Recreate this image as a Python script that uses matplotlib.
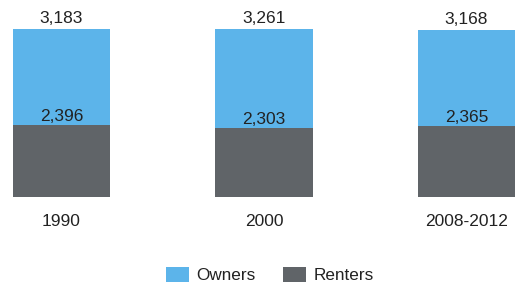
import matplotlib.pyplot as plt
import numpy as np

plt.rcParams['font.family'] = ['Liberation Sans', 'DejaVu Sans']

years = ['1990', '2000', '2008-2012']
renters = [2396, 2303, 2365]
owners = [3183, 3261, 3168]

c_own = '#5cb4ea'
c_rent = '#606468'

fig = plt.figure(figsize=(5.15, 2.89), dpi=100)
ax = fig.add_axes([0, 0.318, 1, 0.682])
x = np.arange(len(years))
w = 0.48

b1 = ax.bar(x, renters, w, color=c_rent, label='Renters')
b2 = ax.bar(x, owners, w, bottom=renters, color=c_own, label='Owners')

for i in range(len(years)):
    ax.text(x[i], renters[i] + 30, f'{renters[i]:,}', ha='center', va='bottom',
            fontsize=12.5, color='#222222')
    ax.text(x[i], renters[i] + owners[i] + 110, f'{owners[i]:,}', ha='center',
            va='bottom', fontsize=12.5, color='#222222')

ax.set_xlim(-0.304, 2.24)
ax.set_ylim(0, 6540)
ax.set_xticks(x)
ax.set_xticklabels(years, fontsize=12.5, color='#222222')
ax.tick_params(axis='x', length=0, pad=12)
ax.set_yticks([])
for s in ax.spines.values():
    s.set_visible(False)

fig.legend([b2, b1], ['Owners', 'Renters'], loc='center',
           bbox_to_anchor=(270 / 515, 1 - 275 / 289), ncol=2, frameon=False,
           fontsize=12.3, handlelength=1.35, handleheight=1.0,
           handletextpad=0.45, columnspacing=1.6, labelcolor='#222222')

fig.savefig('out.png', dpi=100)
